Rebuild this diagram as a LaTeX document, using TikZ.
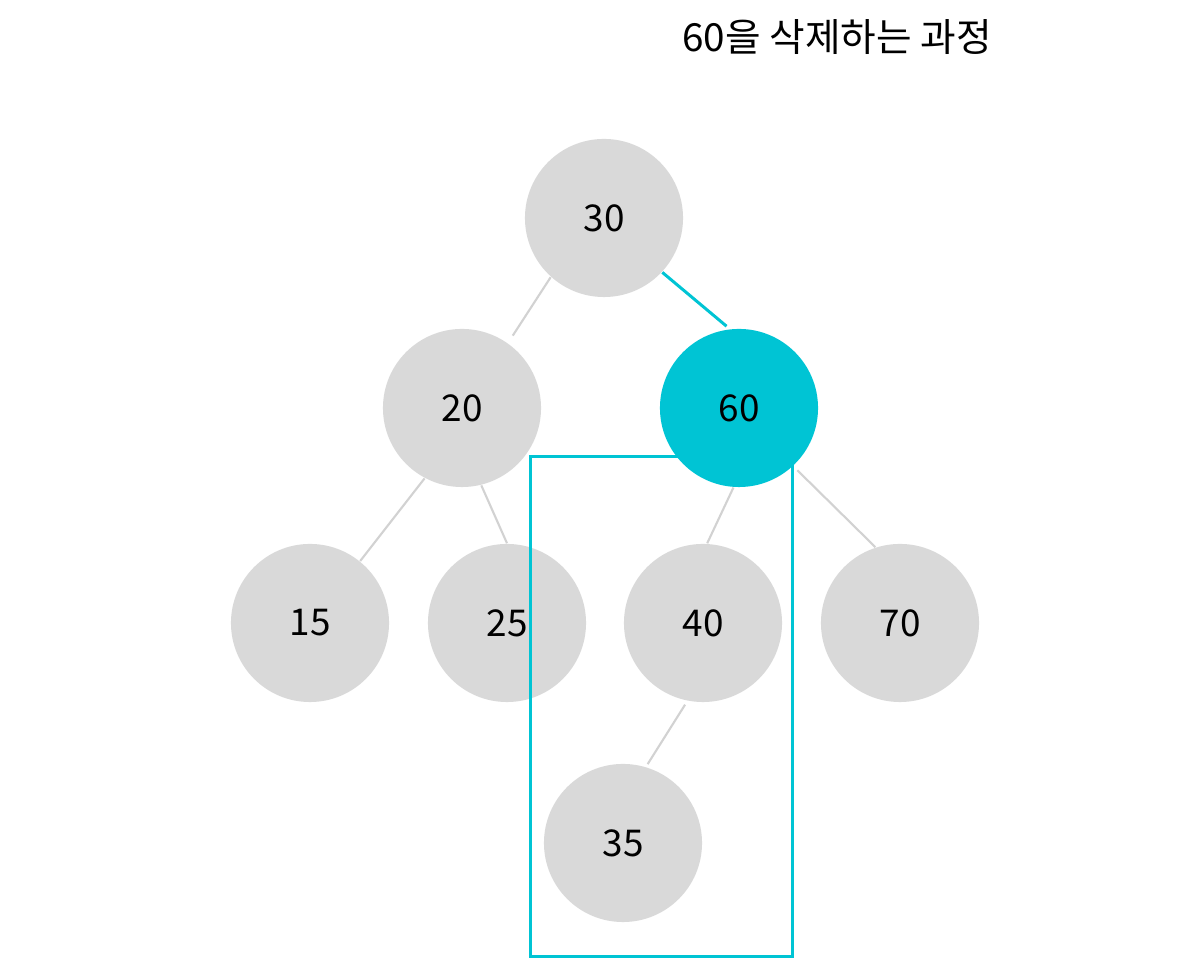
\documentclass[tikz,border=0pt]{standalone}
\usepackage{fontspec}
\setmainfont{Noto Sans CJK KR}
\usepackage{tikz}
\definecolor{nodegray}{RGB}{217,217,217}
\definecolor{linegray}{RGB}{210,210,210}
\definecolor{hicyan}{RGB}{0,196,212}
\tikzstyle{treenode}=[circle, fill=nodegray, minimum size=1.58cm, inner sep=0pt,
        font=\fontsize{10.5}{12}\selectfont]
\tikzstyle{hinode}=[treenode, fill=hicyan]
\tikzstyle{treeedge}=[draw=linegray, line width=0.6pt]
\tikzstyle{hiedge}=[draw=hicyan, line width=0.85pt]

\begin{document}
\begin{tikzpicture}[x=0.01cm, y=-0.01cm]
	\useasboundingbox (0,0) rectangle (1184,974);

	\node (Title) at (837,37) {\fontsize{11}{13}\selectfont 60을 삭제하는 과정};

	\node (N30) [treenode] at (604,218) {30};
	\node (N20) [treenode] at (462,408) {20};
	\node (N60) [hinode] at (739,408) {60};
	\node (N15) [treenode] at (310,623) {15};
	\node (N25) [treenode] at (507,623) {25};
	\node (N40) [treenode] at (703,623) {40};
	\node (N70) [treenode] at (900,623) {70};
	\node (N35) [treenode] at (623,843) {35};

	\draw[treeedge] (N30.-132) -- ([shift={(0.05cm,0.07cm)}]N20.55);
	\draw[hiedge] (N30.-43) -- ([yshift=0.03cm]N60.99);
	\draw[treeedge] (N20.-118) -- (N15.51);
	\draw[treeedge] (N20.-76) -- (N25.90);
	\draw[treeedge] (N60.-94) -- (N40.87);
	\draw[treeedge] ([shift={(0.04cm,-0.04cm)}]N60.-47) -- (N70.108);
	\draw[treeedge] ([yshift=-0.04cm]N40.-103) -- ([yshift=0.03cm]N35.72);

	\node (Box) [draw=hicyan, line width=0.75pt, minimum width=2.62cm, minimum height=5cm,
	        inner sep=0pt, anchor=north west] at (529,455) {};
\end{tikzpicture}
\end{document}
